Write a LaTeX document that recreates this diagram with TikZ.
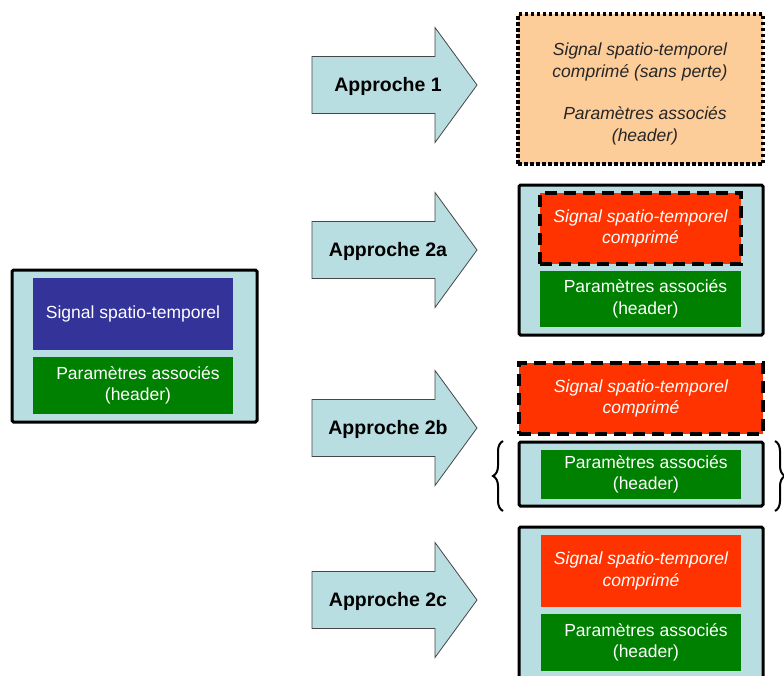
\documentclass[tikz,border=0pt]{standalone}
\usepackage{fontspec}
\setmainfont{Liberation Sans}
\usetikzlibrary{decorations.pathreplacing}
\definecolor{lblue}{RGB}{185,222,225}
\definecolor{dblue}{RGB}{51,51,153}
\definecolor{dgreen}{RGB}{0,128,0}
\definecolor{cred}{RGB}{255,51,0}
\definecolor{peach}{RGB}{252,204,153}
\definecolor{arrowline}{RGB}{70,70,70}
\tikzset{
  box/.style={inner sep=0pt, outer sep=0pt, rectangle},
  outerbox/.style={box, fill=lblue, draw=black, line width=3pt, rounded corners=1.5pt},
  bluebox/.style={box, fill=dblue},
  greenbox/.style={box, fill=dgreen},
  redbox/.style={box, fill=cred},
  dashedred/.style={box, fill=cred, draw=black, line width=3.5pt, dash pattern=on 12pt off 7pt},
  dottedbox/.style={box, fill=peach, draw=black, line width=3.5pt, dash pattern=on 3.5pt off 2.5pt},
  txt/.style={inner sep=0pt, align=center, font=\fontsize{17.5}{21.7}\selectfont},
  wtxt/.style={txt, text=white},
  itxt/.style={txt, font=\fontsize{17.5}{21.7}\selectfont\itshape},
  albl/.style={inner sep=0pt, font=\fontsize{19.5}{23}\selectfont\bfseries},
  blockarrow/.style={fill=lblue, draw=arrowline, line width=0.8pt, line join=miter},
  bracestyle/.style={draw=black, line width=2pt, decorate}
}
\begin{document}
\begin{tikzpicture}[x=1pt,y=-1pt]
\useasboundingbox (0,0) rectangle (784,675);
\fill[white] (0,0) rectangle (784,675);

% left source box
\node[outerbox, minimum width=245pt, minimum height=152pt] (src) at (134.5,346) {};
\node[bluebox, minimum width=200pt, minimum height=72pt] (srcsig) at (133,314) {};
\node[wtxt] (srcsigt) at (srcsig.center) {Signal spatio-temporel};
\node[greenbox, minimum width=200pt, minimum height=57pt] (srcpar) at (133,385.5) {};
\node[wtxt, xshift=5pt] (srcpart) at (srcpar.center) {Paramètres associés\\(header)};

% block arrows
\foreach \c/\n/\t in {85/a1/Approche 1, 250/a2a/Approche 2a, 428/a2b/Approche 2b, 600/a2c/Approche 2c}{
  \draw[blockarrow] (312,\c-28.5) -- (435,\c-28.5) -- (435,\c-57.5) -- (477,\c)
     -- (435,\c+57.5) -- (435,\c+28.5) -- (312,\c+28.5) -- cycle;
  \node[albl] (\n) at (388,\c+1) {\t};
}

% Approche 1 result
\node[dottedbox, minimum width=245pt, minimum height=150pt] (r1) at (640.5,89) {};
\node[itxt, text=black!85] (r1sig) at (640,62) {Signal spatio-temporel\\comprimé (sans perte)};
\node[itxt, text=black!85] (r1par) at (645,126) {Paramètres associés\\(header)};

% Approche 2a result
\node[outerbox, minimum width=244pt, minimum height=150pt] (r2a) at (641,260) {};
\node[dashedred, minimum width=201pt, minimum height=71pt] (r2asig) at (640.5,228.5) {};
\node[itxt, text=white] (r2asigt) at (r2asig.center) {Signal spatio-temporel\\comprimé};
\node[greenbox, minimum width=201pt, minimum height=56pt] (r2apar) at (640.5,299) {};
\node[wtxt, xshift=5pt] (r2apart) at (r2apar.center) {Paramètres associés\\(header)};

% Approche 2b result
\node[dashedred, minimum width=244pt, minimum height=71pt] (r2bsig) at (641,398.5) {};
\node[itxt, text=white] (r2bsigt) at (r2bsig.center) {Signal spatio-temporel\\comprimé};
\node[outerbox, minimum width=244pt, minimum height=64pt] (r2b) at (641,474) {};
\node[greenbox, minimum width=200pt, minimum height=49pt] (r2bpar) at (641,474.5) {};
\node[wtxt, xshift=5pt] (r2bpart) at (r2bpar.center) {Paramètres associés\\(header)};
\coordinate (lbB) at (503,511);
\coordinate (lbT) at (503,441);
\coordinate (rbT) at (775,441);
\coordinate (rbB) at (775,511);
\draw[bracestyle, decoration={brace, amplitude=10pt}] (lbB) -- (lbT);
\draw[bracestyle, decoration={brace, amplitude=10pt}] (rbT) -- (rbB);

% Approche 2c result
\node[outerbox, minimum width=244pt, minimum height=173pt] (r2c) at (641,613.5) {};
\node[redbox, minimum width=200pt, minimum height=72pt] (r2csig) at (641,571) {};
\node[itxt, text=white] (r2csigt) at (r2csig.center) {Signal spatio-temporel\\comprimé};
\node[greenbox, minimum width=200pt, minimum height=57pt] (r2cpar) at (641,642.5) {};
\node[wtxt, xshift=5pt] (r2cpart) at (r2cpar.center) {Paramètres associés\\(header)};
\end{tikzpicture}
\end{document}
